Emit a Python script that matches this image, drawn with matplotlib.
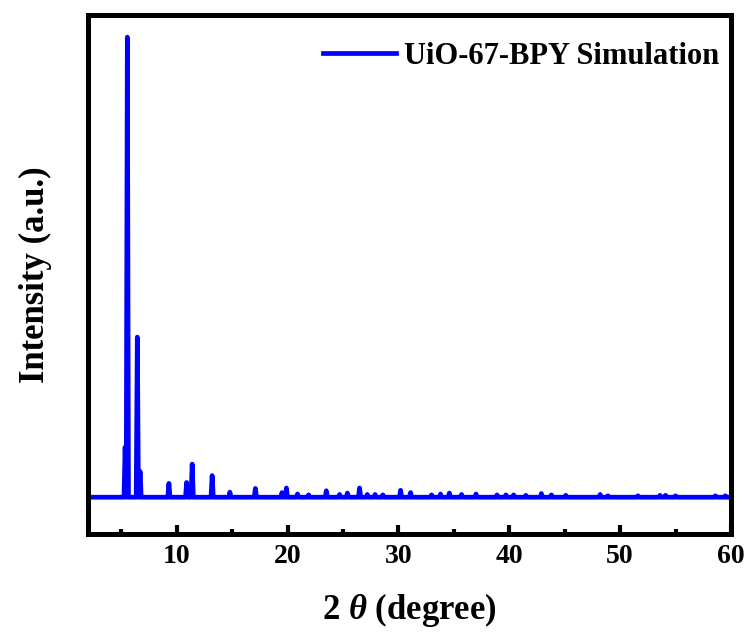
import matplotlib.pyplot as plt

plt.rcParams['font.family'] = ['Liberation Serif', 'DejaVu Serif']
plt.rcParams['font.weight'] = 'bold'
plt.rcParams['mathtext.fontset'] = 'custom'
plt.rcParams['mathtext.it'] = 'Liberation Serif:italic:bold'
plt.rcParams['mathtext.rm'] = 'Liberation Serif:bold'

# simulated peak list (2theta in degree, relative intensity)
peak_pos = [5.35, 5.55, 6.45, 6.70, 9.30, 10.90, 11.40, 13.20, 14.80, 17.10,
            19.50, 19.90, 20.90, 21.90, 23.50, 24.70, 25.40, 26.50, 27.20,
            27.90, 28.60, 30.20, 31.10, 33.00, 33.80, 34.60, 35.70, 37.00,
            38.90, 39.70, 40.40, 41.50, 42.90, 43.80, 45.10, 48.20, 48.90,
            51.60, 53.60, 54.10, 55.00, 58.60, 59.50]
peak_int = [10.9, 100.0, 34.8, 5.6, 3.0, 3.2, 7.2, 4.7, 1.1, 1.9,
            1.0, 2.0, 0.7, 0.5, 1.4, 0.6, 0.9, 2.0, 0.6,
            0.6, 0.5, 1.5, 1.0, 0.5, 0.7, 0.9, 0.6, 0.7,
            0.5, 0.5, 0.5, 0.4, 0.8, 0.5, 0.4, 0.6, 0.3,
            0.3, 0.4, 0.4, 0.3, 0.3, 0.3]
half_width = 0.1

x = [2.0]
y = [0.0]
for p, h in zip(peak_pos, peak_int):
    x += [p - half_width, p, p + half_width]
    y += [0.0, h, 0.0]
x.append(60.0)
y.append(0.0)

fig = plt.figure(figsize=(7.52, 6.34), dpi=100)
ax = fig.add_axes([0.117, 0.1577, 0.855, 0.8186])
ax.plot(x, y, color='#0000ff', lw=3.4, label='UiO-67-BPY Simulation')

ax.set_xlim(2, 60)
ax.set_ylim(-8.0, 104.8)
ax.set_xticks([10, 20, 30, 40, 50, 60])
ax.set_xticks([5, 15, 25, 35, 45, 55], minor=True)
ax.set_yticks([])
ax.tick_params(axis='x', which='major', direction='in', length=6.5, width=3,
               labelsize=20, pad=7)
ax.tick_params(axis='x', which='minor', direction='in', length=3.5, width=3)
for lbl in ax.get_xticklabels():
    lbl.set_fontweight('bold')
for s in ax.spines.values():
    s.set_linewidth(3.6)

ax.set_xlabel(r'2 $\theta$ (degree)', fontsize=25, fontweight='bold', labelpad=16)
ax.set_ylabel('Intensity (a.u.)', fontsize=25, fontweight='bold', labelpad=26)

ax.legend(loc='upper right', frameon=False, fontsize=22, handlelength=2.4,
          handletextpad=0.25, borderaxespad=0.3, bbox_to_anchor=(1.015, 0.99))

fig.savefig('out.png', dpi=100)
